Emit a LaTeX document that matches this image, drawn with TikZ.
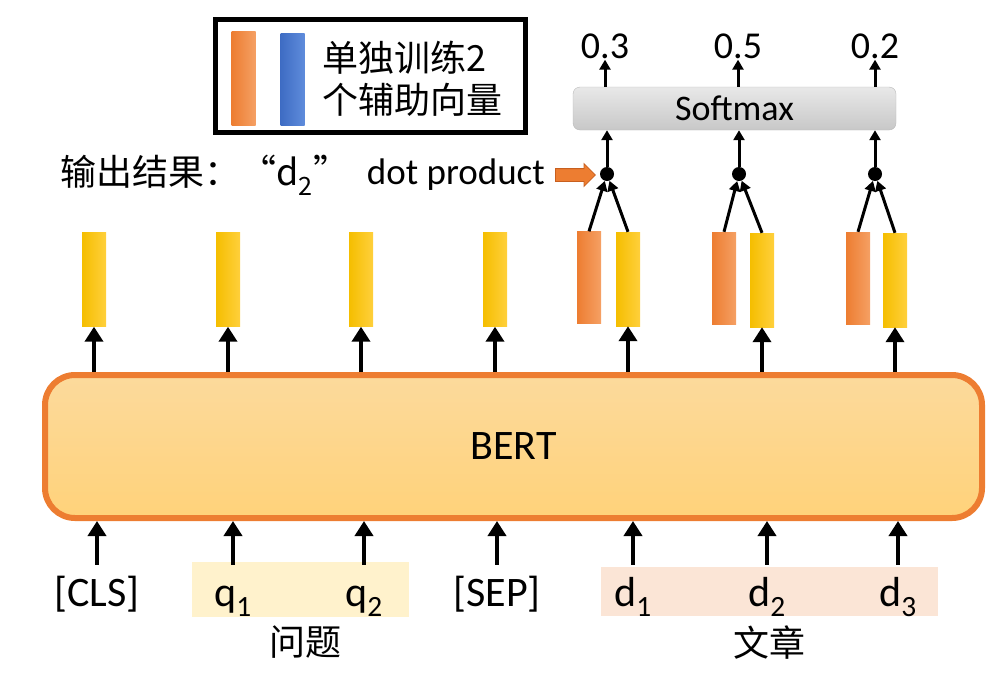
\documentclass[tikz,border=0pt]{standalone}
\usepackage{fontspec}
\setmainfont{Carlito}
\newfontfamily\cjk{Noto Sans CJK SC}
\usepackage{xcolor}
\definecolor{naranja}{RGB}{237, 125, 49}
\definecolor{naranjaclaro}{RGB}{245, 160, 100}
\definecolor{naranjaborde}{RGB}{200, 95, 30}
\definecolor{amarillo}{RGB}{245, 190, 0}
\definecolor{amarilloclaro}{RGB}{255, 208, 60}
\definecolor{azul}{RGB}{62, 108, 196}
\definecolor{azulclaro}{RGB}{95, 140, 220}
\definecolor{bertarriba}{RGB}{252, 218, 156}
\definecolor{bertabajo}{RGB}{255, 210, 122}
\definecolor{bandaq}{RGB}{255, 242, 204}
\definecolor{bandad}{RGB}{251, 229, 214}
\definecolor{grisarriba}{RGB}{232, 232, 232}
\definecolor{grisabajo}{RGB}{200, 200, 200}
\definecolor{grisborde}{RGB}{185, 185, 185}
\usepackage{tikz}
\usetikzlibrary{positioning, arrows.meta, shapes.arrows}

\begin{document}
\begin{tikzpicture}[
  x=1pt, y=-1pt,
  barra/.style={minimum width=24pt, minimum height=94pt, inner sep=0pt},
  amarilla/.style={barra, left color=amarillo, right color=amarilloclaro},
  naranjada/.style={barra, minimum height=92pt, left color=naranja, right color=naranjaclaro},
  flecha/.style={line width=4pt, -{Triangle[length=15pt, width=18pt]}},
  flechita/.style={line width=3pt, -{Triangle[length=10pt, width=11pt]}},
  prod/.style={circle, fill=black, minimum size=14pt, inner sep=0pt},
  entrada/.style={font=\fontsize{42}{48}\selectfont, anchor=base, inner sep=0pt, text height=41pt, text depth=10pt},
  num/.style={font=\fontsize{38}{44}\selectfont, inner sep=1pt},
  chino/.style={font=\fontsize{36}{42}\cjk, inner sep=0pt},
  banda/.style={rectangle, inner sep=0pt}
]
  \useasboundingbox (0,0) rectangle (1000,675);

  % leyenda
  \node[draw, line width=5pt, minimum width=310pt, minimum height=113pt] (leyenda) at (370.5,76) {};
  \node[barra, left color=naranja, right color=naranjaclaro] (lnar) at (243.5,78) {};
  \node[barra, minimum height=92pt, left color=azul, right color=azulclaro] (lazu) at (292.5,79) {};
  \node[chino, anchor=west, align=left] (ltexto) at (322,79) {单独训练2\\个辅助向量};

  % softmax
  \node[rectangle, rounded corners=7pt, draw=grisborde, top color=grisarriba, bottom color=grisabajo,
        minimum width=323pt, minimum height=43pt, inner sep=0pt, font=\fontsize{36}{42}\selectfont] (soft) at (734.5,108.5) {Softmax};
  \node[num] (p1) at (605,46) {0.3};
  \node[num] (p2) at (738,46) {0.5};
  \node[num] (p3) at (875,46) {0.2};
  \draw[flechita] (soft.north -| p1) -- (p1.south);
  \draw[flechita] (soft.north -| p2) -- (p2.south);
  \draw[flechita] (soft.north -| p3) -- (p3.south);

  % productos
  \node[prod] (pt1) at (607,174) {};
  \node[prod] (pt2) at (739,174) {};
  \node[prod] (pt3) at (875,174) {};
  \draw[flechita] (pt1) -- (pt1 |- soft.south);
  \draw[flechita] (pt2) -- (pt2 |- soft.south);
  \draw[flechita] (pt3) -- (pt3 |- soft.south);

  \node[chino, anchor=west] (salida) at (60,175) {输出结果：“d\textsubscript{2}”};
  \node[anchor=east, inner sep=0pt, font=\fontsize{37}{42}\selectfont] (dp) at (545,175) {dot product};
  \node[single arrow, fill=naranja, draw=naranjaborde, line width=0.8pt, inner xsep=0pt, inner ysep=6pt,
        minimum height=40pt, single arrow head extend=5pt, right=10pt of dp] (dpflecha) {};

  % vectores de salida
  \node[amarilla] (v1) at (94,279.5) {};
  \node[amarilla] (v2) at (228,279.5) {};
  \node[amarilla] (v3) at (361,279.5) {};
  \node[amarilla] (v4) at (495,279.5) {};
  \node[naranjada] (n5) at (589,277.5) {};
  \node[amarilla] (v5) at (628,279) {};
  \node[naranjada] (n6) at (724,278) {};
  \node[amarilla] (v6) at (762,280) {};
  \node[naranjada] (n7) at (858,278) {};
  \node[amarilla] (v7) at (895,280) {};

  \draw[flechita] (n5.north) -- (pt1);
  \draw[flechita] (v5.north) -- (pt1);
  \draw[flechita] (n6.north) -- (pt2);
  \draw[flechita] (v6.north) -- (pt2);
  \draw[flechita] (n7.north) -- (pt3);
  \draw[flechita] (v7.north) -- (pt3);

  % BERT
  \node[rectangle, rounded corners=30pt, draw=naranja, line width=6pt, top color=bertarriba, bottom color=bertabajo,
        minimum width=937pt, minimum height=143pt, font=\fontsize{42}{48}\selectfont] (bert) at (513.5,446.5) {BERT};

  \draw[flecha] (bert.north -| v1) -- (v1.south);
  \draw[flecha] (bert.north -| v2) -- (v2.south);
  \draw[flecha] (bert.north -| v3) -- (v3.south);
  \draw[flecha] (bert.north -| v4) -- (v4.south);
  \draw[flecha] (bert.north -| v5) -- (v5.south);
  \draw[flecha] (bert.north -| v6) -- (v6.south);
  \draw[flecha] (bert.north -| v7) -- (v7.south);

  % entradas
  \node[banda, fill=bandaq, minimum width=217pt, minimum height=55pt] (bq) at (300.5,589.5) {};
  \node[banda, fill=bandad, minimum width=337pt, minimum height=49pt] (bd) at (769.5,591.5) {};

  \node[entrada] (cls) at (97,606) {[CLS]};
  \node[entrada] (q1) at (233,606) {q\textsubscript{1}};
  \node[entrada] (q2) at (364,606) {q\textsubscript{2}};
  \node[entrada] (sep) at (497,606) {[SEP]};
  \node[entrada] (d1) at (633,606) {d\textsubscript{1}};
  \node[entrada] (d2) at (767,606) {d\textsubscript{2}};
  \node[entrada] (d3) at (898,606) {d\textsubscript{3}};

  \node[chino, below=8pt of bq, xshift=5pt] (wenti) {问题};
  \node[chino, below=9pt of bd] (wenzhang) {文章};

  \draw[flecha] (cls.north) -- (cls.north |- bert.south);
  \draw[flecha] (q1.north) -- (q1.north |- bert.south);
  \draw[flecha] (q2.north) -- (q2.north |- bert.south);
  \draw[flecha] (sep.north) -- (sep.north |- bert.south);
  \draw[flecha] (d1.north) -- (d1.north |- bert.south);
  \draw[flecha] (d2.north) -- (d2.north |- bert.south);
  \draw[flecha] (d3.north) -- (d3.north |- bert.south);
\end{tikzpicture}
\end{document}
